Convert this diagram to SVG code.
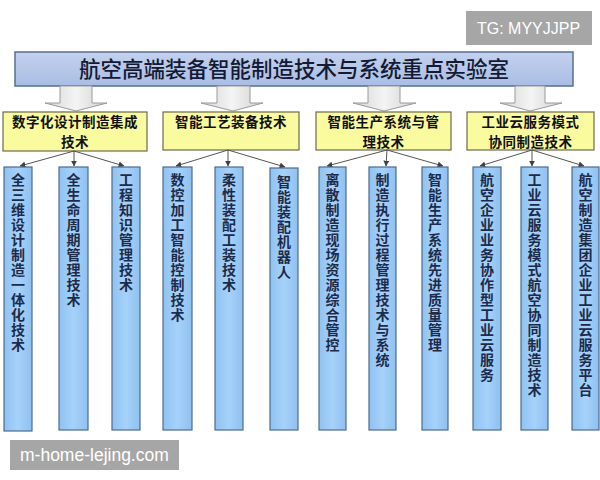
<svg xmlns="http://www.w3.org/2000/svg" width="600" height="480" viewBox="0 0 600 480">
<defs>
<linearGradient id="gTitle" x1="0" y1="0" x2="0" y2="1">
<stop offset="0" stop-color="#c3d1ee"/>
<stop offset="1" stop-color="#a9bde4"/>
</linearGradient>
<linearGradient id="gArrow" x1="0" y1="0" x2="1" y2="0">
<stop offset="0" stop-color="#d6d6d6"/>
<stop offset="0.5" stop-color="#f4f4f4"/>
<stop offset="1" stop-color="#d0d0d0"/>
</linearGradient>
<linearGradient id="gBlue" x1="0" y1="0" x2="1" y2="0">
<stop offset="0" stop-color="#8fc2f2"/>
<stop offset="0.5" stop-color="#a6d2fa"/>
<stop offset="1" stop-color="#8fc0ef"/>
</linearGradient>
<marker id="ah" viewBox="0 0 10 10" refX="9" refY="5" markerWidth="6" markerHeight="6" orient="auto" markerUnits="userSpaceOnUse">
<path d="M0,0 L10,5 L0,10 Z" fill="#404040"/>
</marker>
</defs>
<style>
.wm{fill:#a6a6a6}
.wmt{font-family:"Liberation Sans","Noto Sans",sans-serif;fill:#ffffff}
.title{fill:url(#gTitle);stroke:#5a6e94;stroke-width:1.5}
.titlet{font-family:"Noto Sans CJK SC","Noto Sans",sans-serif;font-size:21.5px;font-weight:500;fill:#141a33;text-anchor:middle}
.barrow{fill:url(#gArrow);stroke:#9a9a9a;stroke-width:1}
.ybox{fill:#fafa9e;stroke:#6b6b4a;stroke-width:1.2}
.yt{font-family:"Noto Sans CJK SC","Noto Sans",sans-serif;font-size:13.5px;letter-spacing:0.5px;font-weight:bold;fill:#111111;text-anchor:middle}
.bbox{fill:url(#gBlue);stroke:#4d6b8c;stroke-width:1.2}
.bt{font-family:"Noto Sans CJK SC","Noto Sans",sans-serif;font-size:14px;font-weight:bold;fill:#1d2b4a;writing-mode:vertical-rl;letter-spacing:1px}
.conn line{stroke:#555555;stroke-width:1;marker-end:url(#ah)}
</style>
<rect width="600" height="480" fill="#ffffff"/>

<g id="watermark-top">
<rect class="wm" x="466" y="11" width="126" height="34"/>
<text class="wmt" x="477" y="34" font-size="16">TG: MYYJJPP</text>
</g>
<g id="watermark-bottom">
<rect class="wm" x="10" y="440" width="169" height="30"/>
<text class="wmt" x="20" y="461" font-size="17.5">m-home-lejing.com</text>
</g>

<g id="title">
<rect class="title" x="15" y="52" width="558" height="34"/>
<text class="titlet" x="294" y="77">航空高端装备智能制造技术与系统重点实验室</text>
</g>

<g id="block-arrows">
<path class="barrow" d="M60,86 L92,86 L92,103 L107,103 L76,111 L45,103 L60,103 Z"/>
<path class="barrow" d="M217,86 L250,86 L250,103 L263,103 L233,111 L201,103 L217,103 Z"/>
<path class="barrow" d="M368,86 L400,86 L400,103 L416,103 L384,111 L353,103 L368,103 Z"/>
<path class="barrow" d="M515,86 L545,86 L545,103 L562,103 L530,111 L500,103 L515,103 Z"/>
</g>

<g id="cat1">
<rect class="ybox" x="3" y="112" width="144" height="39"/>
<text class="yt" x="75" y="127">数字化设计制造集成</text>
<text class="yt" x="75" y="147">技术</text>
</g>
<g id="cat2">
<rect class="ybox" x="163" y="112" width="136" height="38"/>
<text class="yt" x="231" y="127">智能工艺装备技术</text>
</g>
<g id="cat3">
<rect class="ybox" x="316" y="112" width="135" height="38"/>
<text class="yt" x="383.5" y="127">智能生产系统与管</text>
<text class="yt" x="383.5" y="147">理技术</text>
</g>
<g id="cat4">
<rect class="ybox" x="467" y="112" width="127" height="38"/>
<text class="yt" x="530.5" y="127">工业云服务模式</text>
<text class="yt" x="530.5" y="147">协同制造技术</text>
</g>

<g id="connectors" class="conn">
<line x1="74" y1="151" x2="20" y2="166"/>
<line x1="74" y1="151" x2="74" y2="166"/>
<line x1="74" y1="151" x2="124" y2="166"/>
<line x1="228" y1="150" x2="176" y2="166"/>
<line x1="228" y1="150" x2="228" y2="166"/>
<line x1="228" y1="150" x2="285" y2="167"/>
<line x1="387" y1="150" x2="327" y2="166"/>
<line x1="387" y1="150" x2="386" y2="166"/>
<line x1="387" y1="150" x2="443" y2="166"/>
<line x1="532" y1="150" x2="480" y2="166"/>
<line x1="532" y1="150" x2="532" y2="166"/>
<line x1="532" y1="150" x2="584" y2="166"/>
</g>

<g id="item1"><rect class="bbox" x="4" y="167" width="28" height="264"/><text class="bt" x="18" y="173">全三维设计制造一体化技术</text></g>
<g id="item2"><rect class="bbox" x="59" y="167" width="29" height="263"/><text class="bt" x="73.5" y="173">全生命周期管理技术</text></g>
<g id="item3"><rect class="bbox" x="112" y="167" width="28" height="263"/><text class="bt" x="126" y="173">工程知识管理技术</text></g>
<g id="item4"><rect class="bbox" x="163" y="167" width="29" height="263"/><text class="bt" x="177.5" y="173">数控加工智能控制技术</text></g>
<g id="item5"><rect class="bbox" x="215" y="167" width="28" height="263"/><text class="bt" x="229" y="173">柔性装配工装技术</text></g>
<g id="item6"><rect class="bbox" x="270" y="168" width="28" height="262"/><text class="bt" x="284" y="175">智能装配机器人</text></g>
<g id="item7"><rect class="bbox" x="319" y="167" width="27" height="263"/><text class="bt" x="332.5" y="173">离散制造现场资源综合管控</text></g>
<g id="item8"><rect class="bbox" x="369" y="167" width="27" height="263"/><text class="bt" x="382.5" y="173">制造执行过程管理技术与系统</text></g>
<g id="item9"><rect class="bbox" x="422" y="167" width="26" height="263"/><text class="bt" x="435" y="173">智能生产系统先进质量管理</text></g>
<g id="item10"><rect class="bbox" x="473" y="167" width="28" height="263"/><text class="bt" x="487" y="173">航空企业业务协作型工业云服务</text></g>
<g id="item11"><rect class="bbox" x="521" y="167" width="27" height="263"/><text class="bt" x="534.5" y="173">工业云服务模式航空协同制造技术</text></g>
<g id="item12"><rect class="bbox" x="572" y="167" width="27" height="263"/><text class="bt" x="585.5" y="173">航空制造集团企业工业云服务平台</text></g>
</svg>
